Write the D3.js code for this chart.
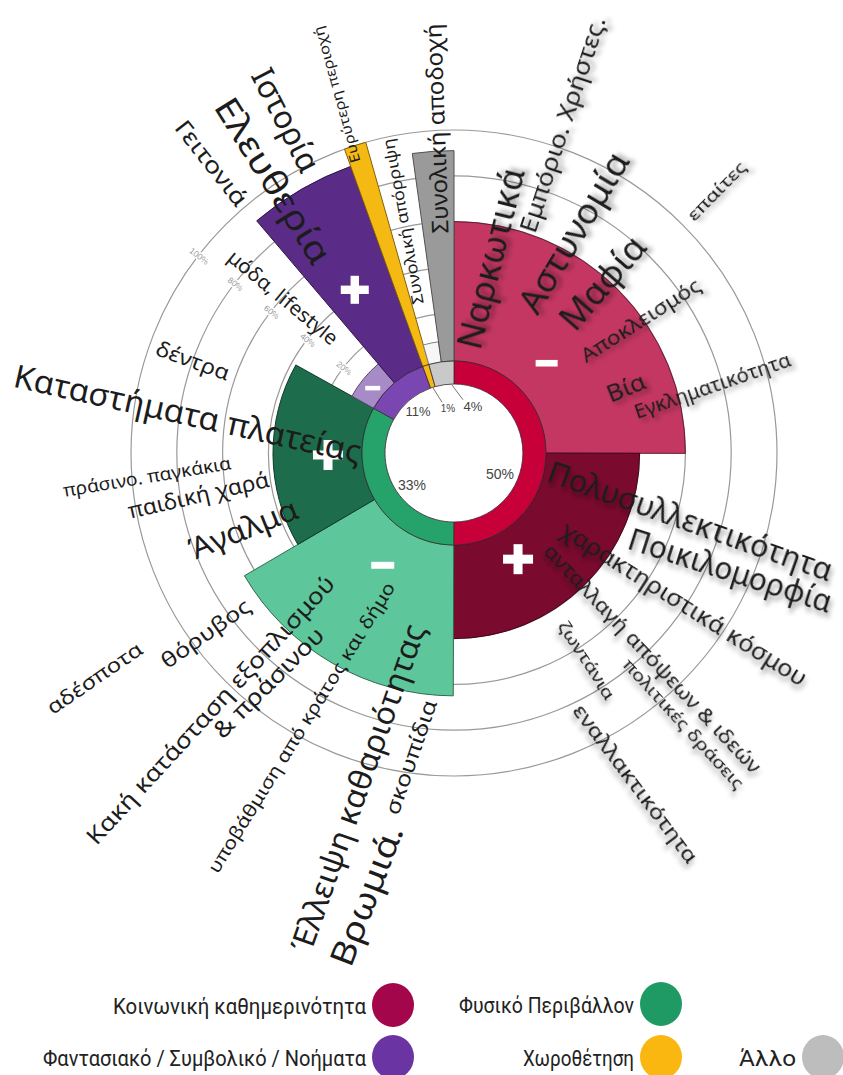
<!DOCTYPE html>
<html><head><meta charset="utf-8">
<script src="https://cdn.jsdelivr.net/npm/d3@7"></script>
<style>body{margin:0;background:#fff}</style>
</head><body>
<svg id="chart" width="843" height="1075"></svg>
<script>
// ---------- DATA ----------
const categories = ["Κοινωνική καθημερινότητα","Φυσικό Περιβάλλον","Φαντασιακό / Συμβολικό / Νοήματα","Χωροθέτηση","Άλλο"];
const shares = [50, 33, 11.4, 1.1, 4.4];
const shareLabels = ["50%","33%","11%","1%","4%"];
const negativeValues = [60, 65, 10, null, 8];
const positiveValues = [40, 38, 92, 100, 91];
const gridTicks = [20, 40, 60, 80, 100];
const labelTexts = [
 "Ναρκωτικά","Εμπόριο. Χρήστες.","Αστυνομία","Μαφία","επαίτες","Αποκλεισμός","Βία","Εγκληματικότητα",
 "Πολυσυλλεκτικότητα","Ποικιλομορφία","χαρακτηριστικά κόσμου","ανταλλαγή απόψεων & ιδεών","πολιτικές δράσεις","ζωντάνια","εναλλακτικότητα",
 "Ιστορία","Ελευθερία","Γειτονιά","Ευρύτερη περιοχή","Συνολική απόρριψη","Συνολική αποδοχή",
 "μόδα, lifestyle","δέντρα","Καταστήματα πλατείας","πράσινο. παγκάκια","παιδική χαρά","Άγαλμα",
 "αδέσποτα","θόρυβος","Κακή κατάσταση εξοπλισμού","& πράσινου","υποβάθμιση από κράτος και δήμο",
 "Έλλειψη καθαριότητας","Βρωμιά.","σκουπίδια"
];

// ---------- STYLE / LAYOUT ----------
const ringColors = ["#c8003a","#25a36b","#7a46b2","#f5b914","#c9c9c9"];
const negColors  = ["#c43763","#5dc79b","#a68bc7",null,"#f6f6f6"];
const posColors  = ["#7b0a2f","#1d6d4c","#5a2c88","#f5b914","#9a9a9a"];
const legendColors = ["#a3064a","#1f9a64","#6a35a2","#f9b710","#bdbdbd"];
// label layout: angle(deg, clockwise from top), radius(px), rotation(deg), font size, length, shadow
const labelLayout = [
 [10.5,198,-76,34,185,1],[18.2,346,-71.7,23,226,1],[28.3,251,-59,34,181,1],[40.9,226,-49,34,112,1],
 [44.9,371,-45.5,17,76,1],[54.6,229,-32.5,20,138,1],[69,184,-22,24,40,1],[75.4,267,-19,19,164,1],
 [105.8,246,19.6,31,300,1],[112.8,300,17.8,30,212,1],[123.1,275,32.3,23,286,1],[135.8,286,46.7,20,306,1],
 [139.7,355,47.4,17,170,1],[147.3,246,56.3,17,90,1],[151.1,377,53,20,193,1],
 [333.4,373,62.7,32,112,0],[326.6,327,58,34,189,0],[320.2,378,51.8,23,102,0],[341.8,377,-105.6,14,141,0],
 [347.5,237,-100.3,16,168,0],[356.8,325,-92,23,210,0],
 [312.4,231,39.6,20,136,0],[289.6,277,20,21,77,0],[278.6,269,12.5,32,355,0],[265.7,308,-9.5,18,170,0],
 [260.9,259,-12.9,22,144,0],[250.4,224,-22,30,115,0],
 [238,424,-34.4,20,111,0],[234.1,307,-35.2,21,104,0],[223.6,354,-47.5,23,355,0],[219.1,295,-45,23,146,0],
 [209.2,314,-58.2,18,338,0],[196.2,348,-70.5,31,345,0],[191.3,451,-69,33,148,0],[188.2,307,-71,21,120,0]
];
const shareLabelLayout = [[114.5,50.6,14],[232.7,52.8,14],[318.7,54.6,13],[352.4,45.4,10],[22.4,49.8,13]];
const leaderLayout = [[342,69,346.8,52],[358.3,68,9.6,54]];
const signLayout = [["-",45.9,129,22],["+",148.9,124,30],["-",212.4,133,23],["+",269.1,126,30],["-",308.6,104,15],["+",328.7,191,28]];
const legendLayout = [[393,1005,253],[661,1004,175],[393,1057,323],[661,1057,111],[823,1057,57]];

const cx = 454, cy = 453, R0 = 69, R1 = 92;
const rad = d => d * Math.PI / 180;
const pol = (a, r) => [r * Math.sin(rad(a)), -r * Math.cos(rad(a))];

const svg = d3.select("#chart");
const defs = svg.append("defs");
const f = defs.append("filter").attr("id","sh").attr("x","-30%").attr("y","-60%").attr("width","160%").attr("height","220%");
f.append("feDropShadow").attr("dx",3).attr("dy",4).attr("stdDeviation",2.5).attr("flood-color","#000").attr("flood-opacity",0.4);

const g = svg.append("g").attr("transform", `translate(${cx},${cy})`);
const y = d3.scaleLinear().domain([0,100]).range([94,323]);

// grid circles
g.selectAll("circle.grid").data(gridTicks).join("circle").attr("class","grid")
 .attr("r", d => y(d)).attr("fill","none").attr("stroke","#999").attr("stroke-width",1.2);

// bars
const pie = d3.pie().sort(null).value(d => d)(shares);
const bars = [];
pie.forEach((p, i) => {
  const s = p.startAngle, e = p.endAngle;
  if (negativeValues[i] == null) bars.push({s, e, v: positiveValues[i], c: posColors[i]});
  else {
    const m = (s + e) / 2;
    bars.push({s, e: m, v: negativeValues[i], c: negColors[i]});
    bars.push({s: m, e, v: positiveValues[i], c: posColors[i]});
  }
});
const arc = d3.arc();
g.selectAll("path.bar").data(bars).join("path").attr("class","bar")
 .attr("d", d => arc({innerRadius: R1, outerRadius: y(d.v), startAngle: d.s, endAngle: d.e}))
 .attr("fill", d => d.c).attr("stroke", d => d3.color(d.c).darker(1.8)).attr("stroke-width", 1);

// inner ring
g.selectAll("path.ring").data(pie).join("path").attr("class","ring")
 .attr("d", d => arc({innerRadius: R0, outerRadius: R1, startAngle: d.startAngle, endAngle: d.endAngle}))
 .attr("fill", (d,i) => ringColors[i]).attr("stroke", "#3a2a30").attr("stroke-width", 0.8);

// tick labels
gridTicks.forEach(t => {
  const [x, yy] = pol(307.7, y(t) - 1);
  g.append("text").attr("transform", `translate(${x},${yy}) rotate(38)`)
   .attr("text-anchor","middle").attr("dominant-baseline","central")
   .attr("font-family","Liberation Sans, Arial, sans-serif").attr("font-size",8.5)
   .attr("fill","#9a9a9a").attr("stroke","#fff").attr("stroke-width",3).attr("paint-order","stroke")
   .text(t + "%");
});

// share labels & leaders
leaderLayout.forEach(([a1,r1,a2,r2]) => {
  const p1 = pol(a1,r1), p2 = pol(a2,r2);
  g.append("line").attr("x1",p1[0]).attr("y1",p1[1]).attr("x2",p2[0]).attr("y2",p2[1]).attr("stroke","#777").attr("stroke-width",1);
});
shareLabels.forEach((t, i) => {
  const [a, r, s] = shareLabelLayout[i];
  const [x, yy] = pol(a, r);
  g.append("text").attr("x", x).attr("y", yy).attr("text-anchor","middle").attr("dominant-baseline","central")
   .attr("font-family","Liberation Sans, Arial, sans-serif").attr("font-size", s).attr("fill","#444").text(t);
});

// signs
signLayout.forEach(([t, a, r, w]) => {
  const [x, yy] = pol(a, r);
  const th = w * 0.3;
  g.append("rect").attr("x", x - w/2).attr("y", yy - th/2).attr("width", w).attr("height", th).attr("fill","#fff");
  if (t === "+") g.append("rect").attr("x", x - th/2).attr("y", yy - w/2).attr("width", th).attr("height", w).attr("fill","#fff");
});

// word labels
labelTexts.forEach((t, i) => {
  const [a, r, rot, s, len, sh] = labelLayout[i];
  const [x, yy] = pol(a, r);
  const el = g.append("text").attr("transform", `translate(${x},${yy}) rotate(${rot})`)
   .attr("text-anchor","middle").attr("dominant-baseline","central")
   .attr("font-family","Noto Sans, Open Sans, sans-serif").attr("font-size", s)
   .attr("fill","#1c1c1c").attr("textLength", len).attr("lengthAdjust","spacingAndGlyphs").text(t);
  if (sh) el.attr("filter","url(#sh)");
});

// legend
const lg = svg.append("g");
categories.forEach((c, i) => {
  const [lx, ly, len] = legendLayout[i];
  lg.append("ellipse").attr("cx", lx).attr("cy", ly).attr("rx", 21).attr("ry", 22).attr("fill", legendColors[i]);
  lg.append("text").attr("x", lx - 27).attr("y", ly + 1).attr("text-anchor","end").attr("dominant-baseline","central")
   .attr("font-family","Liberation Sans Narrow, Arial Narrow, Roboto, sans-serif").attr("font-size", 22)
   .attr("fill","#222").attr("textLength", len).attr("lengthAdjust","spacingAndGlyphs").text(c);
});
</script>
</body></html>
